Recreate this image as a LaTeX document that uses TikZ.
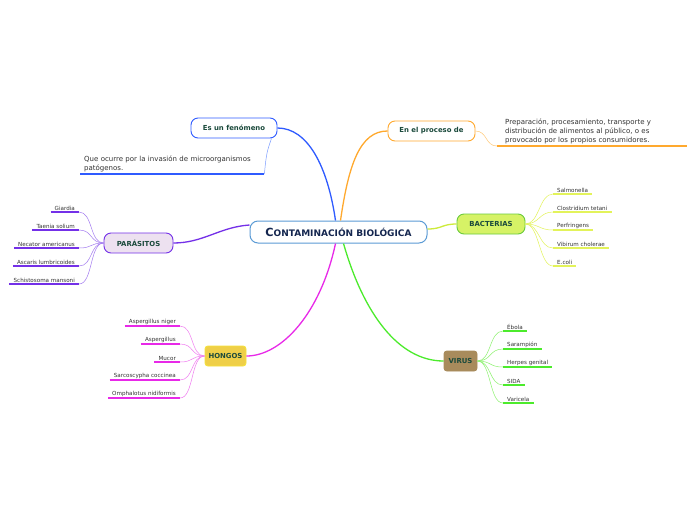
\documentclass[tikz,border=0pt]{standalone}
\usepackage{fontspec}
\setmainfont{DejaVu Sans}
\definecolor{txtdark}{HTML}{1B4A3C}
\definecolor{leaftxt}{HTML}{333333}
\definecolor{cenborder}{HTML}{5B9BD5}
\definecolor{cenText}{HTML}{14264F}
\definecolor{blueB}{HTML}{2F5BFF}
\definecolor{blueL}{HTML}{7A9CFF}
\definecolor{orangeB}{HTML}{FFA92E}
\definecolor{orangeL}{HTML}{FFC875}
\definecolor{limeB}{HTML}{CDEB3A}
\definecolor{limeL}{HTML}{E3F35A}
\definecolor{bacFill}{HTML}{D6F266}
\definecolor{bacBorder}{HTML}{6BCB3C}
\definecolor{greenB}{HTML}{4CEB2C}
\definecolor{greenL}{HTML}{8CF26E}
\definecolor{virFill}{HTML}{A88B5C}
\definecolor{magB}{HTML}{E829E8}
\definecolor{magL}{HTML}{F07CF0}
\definecolor{honFill}{HTML}{EFCF48}
\definecolor{honBorder}{HTML}{F5E23C}
\definecolor{purB}{HTML}{7430E8}
\definecolor{purL}{HTML}{A37BF0}
\definecolor{parFill}{HTML}{EDE1F0}
\newcommand{\leaffont}{\fontsize{5.6}{6.5}\selectfont}
\newcommand{\topicfont}{\fontsize{6.9}{8}\selectfont\bfseries}
\newcommand{\descfont}{\fontsize{7}{9}\selectfont}
\begin{document}
\begin{tikzpicture}[x=1pt,y=-1pt,
  topic/.style={draw, rounded corners=7pt, line width=0.9pt, font=\topicfont, text=txtdark, minimum height=20pt, inner sep=2pt},
  leafL/.style={anchor=south east, inner xsep=4pt, inner ysep=1.4pt, font=\leaffont, text=leaftxt},
  leafR/.style={anchor=south west, inner xsep=4pt, inner ysep=1.4pt, font=\leaffont, text=leaftxt},
  uline/.style={line width=1.3pt},
  branch/.style={line width=1.3pt},
  twig/.style={line width=0.5pt}]
\useasboundingbox[fill=white] (0,0) rectangle (696,520);

% central
\node[draw=cenborder, line width=1pt, rounded corners=8pt, fill=white, minimum width=177pt, minimum height=22pt, text=cenText, font=\bfseries, inner sep=1pt] (c) at (338.5,232)
  {{\fontsize{11.2}{12}\selectfont C}{\fontsize{9}{10}\selectfont ONTAMINACIÓN BIOLÓGICA}};

% topics
\node[topic, draw=blueB, fill=white, minimum width=86pt] (fen) at (234,128) {Es un fenómeno};
\node[topic, draw=orangeB, fill=white, minimum width=87pt] (proc) at (431.5,131) {En el proceso de};
\node[topic, draw=bacBorder, fill=bacFill, minimum width=68pt] (bac) at (491,224) {BACTERIAS};
\node[topic, draw=virFill, fill=virFill, rounded corners=3pt, minimum width=33pt] (vir) at (460.5,361) {VIRUS};
\node[topic, draw=honBorder, fill=honFill, rounded corners=3pt, minimum width=41pt] (hon) at (225.5,356) {HONGOS};
\node[topic, draw=purB, fill=parFill, minimum width=69pt] (par) at (138.5,243) {PARÁSITOS};

% main branches
\draw[branch, blueB] ([xshift=-3pt]c.north) .. controls +(-8,-55) and +(30,0) .. (fen.east);
\draw[branch, orangeB] ([xshift=2pt]c.north) .. controls +(8,-55) and +(-28,0) .. (proc.west);
\draw[branch, limeB] ([yshift=3pt]c.east) .. controls +(15,0) and +(-15,0) .. (bac.west);
\draw[branch, greenB] ([xshift=5pt]c.south) .. controls +(20,70) and +(-45,0) .. (vir.west);
\draw[branch, magB] ([xshift=-3pt]c.south) .. controls +(-15,70) and +(35,0) .. (hon.east);
\draw[branch, purB] ([yshift=7pt]c.west) .. controls +(-30,2) and +(30,0) .. (par.east);

% descriptions
\node[anchor=south west, inner xsep=4pt, inner ysep=1.6pt, text width=176pt, align=left, font=\descfont, text=leaftxt] (d1) at (80,174)
  {Que ocurre por la invasión de microorganismos\\patógenos.};
\draw[uline, blueB] (d1.south west) -- (d1.south east);
\draw[twig, blueL] ([xshift=-6pt]fen.south east) .. controls +(-4,12) and +(2,-22) .. (d1.south east);

\node[anchor=south west, inner xsep=8pt, inner ysep=1.6pt, text width=174pt, align=left, font=\descfont, text=leaftxt] (d2) at (497,146)
  {Preparación, procesamiento, transporte y\\distribución de alimentos al público, o es\\provocado por los propios consumidores.};
\draw[uline, orangeB] (d2.south west) -- (d2.south east);
\draw[twig, orangeL] (proc.east) .. controls +(12,0) and +(-12,0) .. (d2.south west);

% parasitos leaves
\node[leafL] (p1) at (79,212) {Giardia};
\node[leafL] (p2) at (79,230) {Taenia solium};
\node[leafL] (p3) at (79,248) {Necator americanus};
\node[leafL] (p4) at (79,266) {Ascaris lumbricoides};
\node[leafL] (p5) at (79,284) {Schistosoma mansoni};
\foreach \n in {p1,p2,p3,p4,p5}{
  \draw[uline, purB] (\n.south west) -- (\n.south east);
  \draw[twig, purL] (par.west) .. controls +(-14,0) and +(14,0) .. (\n.south east);
}

% bacterias leaves
\node[leafR] (b1) at (553,194) {Salmonella};
\node[leafR] (b2) at (553,212) {Clostridium tetani};
\node[leafR] (b3) at (553,230) {Perfringens};
\node[leafR] (b4) at (553,248) {Vibirum cholerae};
\node[leafR] (b5) at (553,266) {E.coli};
\foreach \n in {b1,b2,b3,b4,b5}{
  \draw[uline, limeL] (\n.south west) -- (\n.south east);
  \draw[twig, limeL] (bac.east) .. controls +(14,0) and +(-14,0) .. (\n.south west);
}

% virus leaves
\node[leafR] (v1) at (503,331) {Ébola};
\node[leafR] (v2) at (503,349) {Sarampión};
\node[leafR] (v3) at (503,367) {Herpes genital};
\node[leafR] (v4) at (503,385) {SIDA};
\node[leafR] (v5) at (503,403) {Varicela};
\foreach \n in {v1,v2,v3,v4,v5}{
  \draw[uline, greenB] (\n.south west) -- (\n.south east);
  \draw[twig, greenL] (vir.east) .. controls +(14,0) and +(-14,0) .. (\n.south west);
}

% hongos leaves
\node[leafL] (h1) at (180,326) {Aspergillus niger};
\node[leafL] (h2) at (180,344) {Aspergillus};
\node[leafL] (h3) at (180,362) {Mucor};
\node[leafL] (h4) at (180,380) {Sarcoscypha coccinea};
\node[leafL] (h5) at (180,398) {Omphalotus nidiformis};
\foreach \n in {h1,h2,h3,h4,h5}{
  \draw[uline, magB] (\n.south west) -- (\n.south east);
  \draw[twig, magL] (hon.west) .. controls +(-14,0) and +(14,0) .. (\n.south east);
}
\end{tikzpicture}
\end{document}
